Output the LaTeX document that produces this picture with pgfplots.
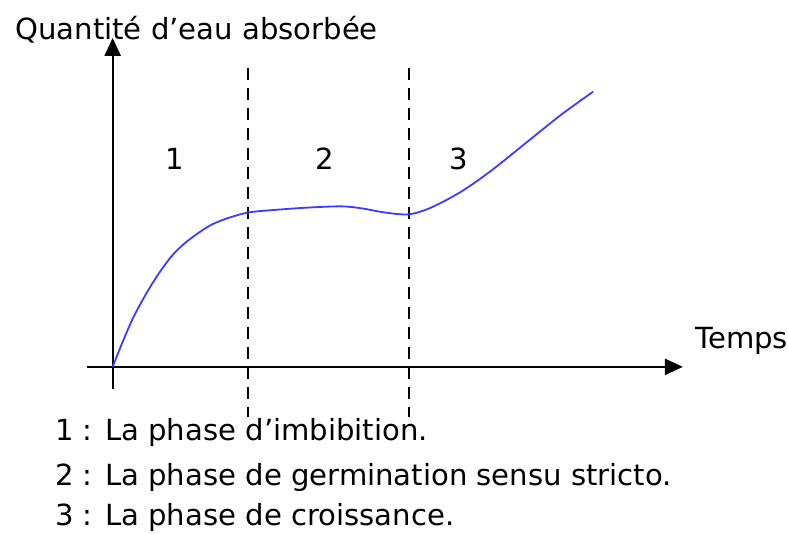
\documentclass[border=0pt]{standalone}
\usepackage{pgfplots}
\pgfplotsset{compat=1.18}
\usepackage{fontspec}
\setmainfont{DejaVu Sans}
\usetikzlibrary{arrows.meta}
\definecolor{courbe}{RGB}{60,60,255}
\tikzset{lab/.style={inner sep=0pt, font=\fontsize{14.6}{17}\selectfont}}

\begin{document}
\begin{tikzpicture}
\begin{axis}[
    x=0.5pt, y=0.5pt,
    xmin=-26, xmax=572,
    ymin=-22, ymax=330,
    axis lines=middle,
    axis line style={line width=1.1pt, -{Triangle[length=9pt,width=8pt]}},
    xtick=\empty, ytick=\empty,
    clip=false,
]

% cadre de la page
\path (axis cs:-113,-167) rectangle (axis cs:675,368);

% limites des phases
\addplot[black, line width=0.9pt, dash pattern=on 6pt off 4pt] coordinates {(136,300) (136,-50)};
\addplot[black, line width=0.9pt, dash pattern=on 6pt off 4pt] coordinates {(297,300) (297,-50)};

% quantite d'eau absorbee
\addplot[courbe, line width=0.9pt, smooth, tension=0.5] coordinates {
    (0,0) (10,25) (20,48) (30,67) (40,84) (50,99) (60,112) (70,122)
    (80,130) (90,137) (100,143) (115,149) (137,155) (170,158) (200,160)
    (230,161) (250,159) (272,155) (297,153)
    (320,160) (350,176) (380,197) (415,225) (450,253) (482,276)
};

\node[lab, anchor=base west] at (axis cs:-98,328) {Quantité d’eau absorbée};
\node[lab, anchor=base west] at (axis cs:584,18) {Temps};

\node[lab, anchor=base] at (axis cs:62,198) {1};
\node[lab, anchor=base] at (axis cs:213,198) {2};
\node[lab, anchor=base] at (axis cs:347,198) {3};

\node[lab, anchor=base west] at (axis cs:-58,-74) {1 : La phase d’imbibition.};
\node[lab, anchor=base west] at (axis cs:-58,-119) {2 : La phase de germination sensu stricto.};
\node[lab, anchor=base west] at (axis cs:-58,-159) {3 : La phase de croissance.};

\end{axis}
\end{tikzpicture}
\end{document}
